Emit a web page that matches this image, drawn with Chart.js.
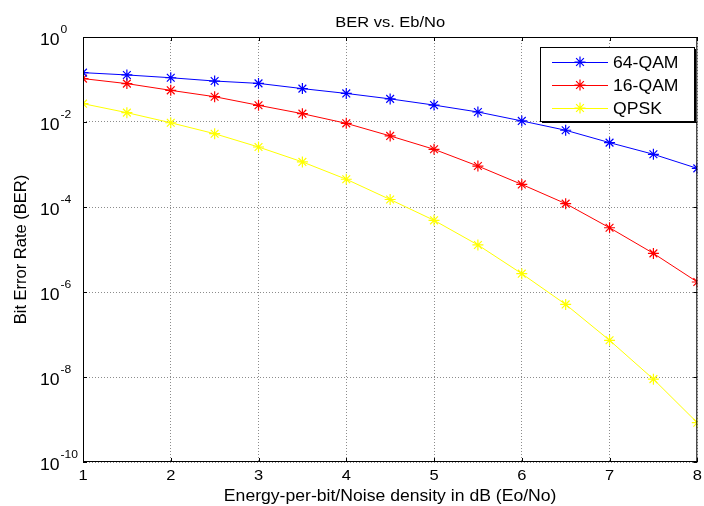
<!DOCTYPE html>
<html lang="en">
<head>
<meta charset="UTF-8" />
<title>BER vs. Eb/No</title>
<script src="https://cdn.jsdelivr.net/npm/chart.js"></script>
<style>
  html, body { margin: 0; padding: 0; background: #fff; }
  #wrap { width: 704px; height: 506px; }
</style>
</head>
<body>
<div id="wrap"><canvas id="berChart" width="704" height="506"></canvas></div>
<script>
  // data
  const ebno = [1, 1.5, 2, 2.5, 3, 3.5, 4, 4.5, 5, 5.5, 6, 6.5, 7, 7.5, 8];
  const ber64qam = [0.145, 0.128, 0.110, 0.092, 0.081, 0.061, 0.047, 0.035, 0.025, 0.0172, 0.0106, 0.0064, 0.00327, 0.00174, 0.00081];
  const ber16qam = [0.105, 0.080, 0.0556, 0.0394, 0.0247, 0.0157, 0.0093, 0.0047, 0.00228, 9.2e-4, 3.4e-4, 1.2e-4, 3.25e-5, 8.1e-6, 1.72e-6];
  const berQpsk = [0.027, 0.0166, 0.0096, 0.0053, 0.00258, 0.00115, 4.5e-4, 1.5e-4, 4.86e-5, 1.28e-5, 2.7e-6, 5.1e-7, 7.3e-8, 8.9e-9, 8.4e-10];
  const xTicks = [1, 2, 3, 4, 5, 6, 7, 8];
  const yExponents = [0, -2, -4, -6, -8, -10];

  const FONT = 'Liberation Sans, Arial, sans-serif';
  const STRETCH = 1.1; // the reference text is a little wide

  function toPoints(ys) {
    return ebno.map((x, i) => ({ x: x, y: ys[i] }));
  }

  function series(label, color, ys) {
    return {
      label: label,
      data: toPoints(ys),
      borderColor: color,
      backgroundColor: color,
      borderWidth: 1,
      pointStyle: 'star',
      pointRadius: 5.5,
      pointBorderWidth: 1.2,
      pointBorderColor: color,
      tension: 0
    };
  }

  function text(ctx, str, x, y, size, align) {
    ctx.save();
    ctx.font = size + 'px ' + FONT;
    ctx.textBaseline = 'alphabetic';
    ctx.textAlign = align;
    ctx.translate(x, y);
    ctx.scale(STRETCH, 1);
    ctx.fillText(str, 0, 0);
    const w = ctx.measureText(str).width * STRETCH;
    ctx.restore();
    return w;
  }

  function star(ctx, mx, cy, r) {
    const d = r * 0.7071;
    ctx.beginPath();
    ctx.moveTo(mx - r, cy); ctx.lineTo(mx + r, cy);
    ctx.moveTo(mx, cy - r); ctx.lineTo(mx, cy + r);
    ctx.moveTo(mx - d, cy - d); ctx.lineTo(mx + d, cy + d);
    ctx.moveTo(mx - d, cy + d); ctx.lineTo(mx + d, cy - d);
    ctx.stroke();
  }

  // draws frame, title, tick labels, axis titles and the legend box
  const matlabLook = {
    id: 'matlabLook',
    afterDraw(chart) {
      const ctx = chart.ctx;
      const a = chart.chartArea;
      const xs = chart.scales.x;
      const ys = chart.scales.y;
      const midX = (a.left + a.right) / 2;
      ctx.save();

      // frame
      ctx.strokeStyle = '#000';
      ctx.lineWidth = 1;
      ctx.strokeRect(a.left + 0.5, a.top + 0.5, a.right - a.left - 1, a.bottom - a.top - 1);

      // inner tick marks
      ctx.beginPath();
      xTicks.forEach(v => {
        const px = Math.round(xs.getPixelForValue(v)) + 0.5;
        ctx.moveTo(px, a.bottom); ctx.lineTo(px, a.bottom - 4);
        ctx.moveTo(px, a.top); ctx.lineTo(px, a.top + 4);
      });
      yExponents.forEach(e => {
        const py = Math.round(ys.getPixelForValue(Math.pow(10, e))) + 0.5;
        ctx.moveTo(a.left, py); ctx.lineTo(a.left + 4, py);
        ctx.moveTo(a.right, py); ctx.lineTo(a.right - 4, py);
      });
      ctx.stroke();

      ctx.fillStyle = '#000';

      // title
      text(ctx, 'BER vs. Eb/No', midX, 27, 15, 'center');

      // x tick labels
      xTicks.forEach(v => {
        text(ctx, String(v), xs.getPixelForValue(v), 480, 15, 'center');
      });

      // x title
      text(ctx, 'Energy-per-bit/Noise density in dB (Eo/No)', midX, 501, 16, 'center');

      // y tick labels 10^e
      yExponents.forEach(e => {
        const py = ys.getPixelForValue(Math.pow(10, e));
        const w = text(ctx, '10', 40, py + 8, 16, 'left');
        text(ctx, String(e), 40 + w + 1, py - 4, 11, 'left');
      });

      // y title
      ctx.save();
      ctx.translate(26, (a.top + a.bottom) / 2);
      ctx.rotate(-Math.PI / 2);
      ctx.font = '16.5px ' + FONT;
      ctx.textAlign = 'center';
      ctx.textBaseline = 'alphabetic';
      ctx.fillText('Bit Error Rate (BER)', 0, 0);
      ctx.restore();

      // legend
      const lx = 540, ly = 47, lw = 154, lh = 74;
      ctx.fillStyle = '#fff';
      ctx.fillRect(lx, ly, lw, lh);
      ctx.strokeStyle = '#000';
      ctx.lineWidth = 1;
      ctx.strokeRect(lx + 0.5, ly + 0.5, lw, lh);
      ctx.beginPath();
      ctx.moveTo(lx + lw + 1.5, ly + 2); ctx.lineTo(lx + lw + 1.5, ly + lh + 1.5);
      ctx.lineTo(lx + 2, ly + lh + 1.5);
      ctx.stroke();
      chart.data.datasets.forEach((ds, i) => {
        const cy = ly + 15 + i * 23;
        ctx.strokeStyle = ds.borderColor;
        ctx.lineWidth = 1;
        ctx.beginPath();
        ctx.moveTo(lx + 12, cy + 0.5);
        ctx.lineTo(lx + 68, cy + 0.5);
        ctx.stroke();
        ctx.lineWidth = 1.2;
        star(ctx, lx + 40, cy, 5.5);
        ctx.fillStyle = '#000';
        text(ctx, ds.label, lx + 73, cy + 6, 16, 'left');
      });

      ctx.restore();
    }
  };

  new Chart(document.getElementById('berChart'), {
    type: 'line',
    data: {
      datasets: [
        series('64-QAM', '#0000ff', ber64qam),
        series('16-QAM', '#ff0000', ber16qam),
        series('QPSK', '#ffff00', berQpsk)
      ]
    },
    options: {
      responsive: false,
      animation: false,
      events: [],
      layout: { padding: { top: 37, right: 6, left: 0, bottom: 0 } },
      plugins: {
        legend: { display: false },
        title: { display: false },
        tooltip: { enabled: false }
      },
      scales: {
        x: {
          type: 'linear',
          min: 1,
          max: 8,
          afterBuildTicks: s => { s.ticks = xTicks.map(v => ({ value: v })); },
          afterFit: s => { s.height = 44; },
          ticks: { display: false },
          grid: { color: '#8c8c8c', lineWidth: 1, drawTicks: false },
          border: { display: false, dash: [1, 2] }
        },
        y: {
          type: 'logarithmic',
          min: 1e-10,
          max: 1,
          afterBuildTicks: s => { s.ticks = yExponents.map(e => ({ value: Math.pow(10, e) })); },
          afterFit: s => { s.width = 83; },
          ticks: { display: false },
          grid: { color: '#8c8c8c', lineWidth: 1, drawTicks: false },
          border: { display: false, dash: [1, 2] }
        }
      }
    },
    plugins: [matlabLook]
  });
</script>
</body>
</html>
